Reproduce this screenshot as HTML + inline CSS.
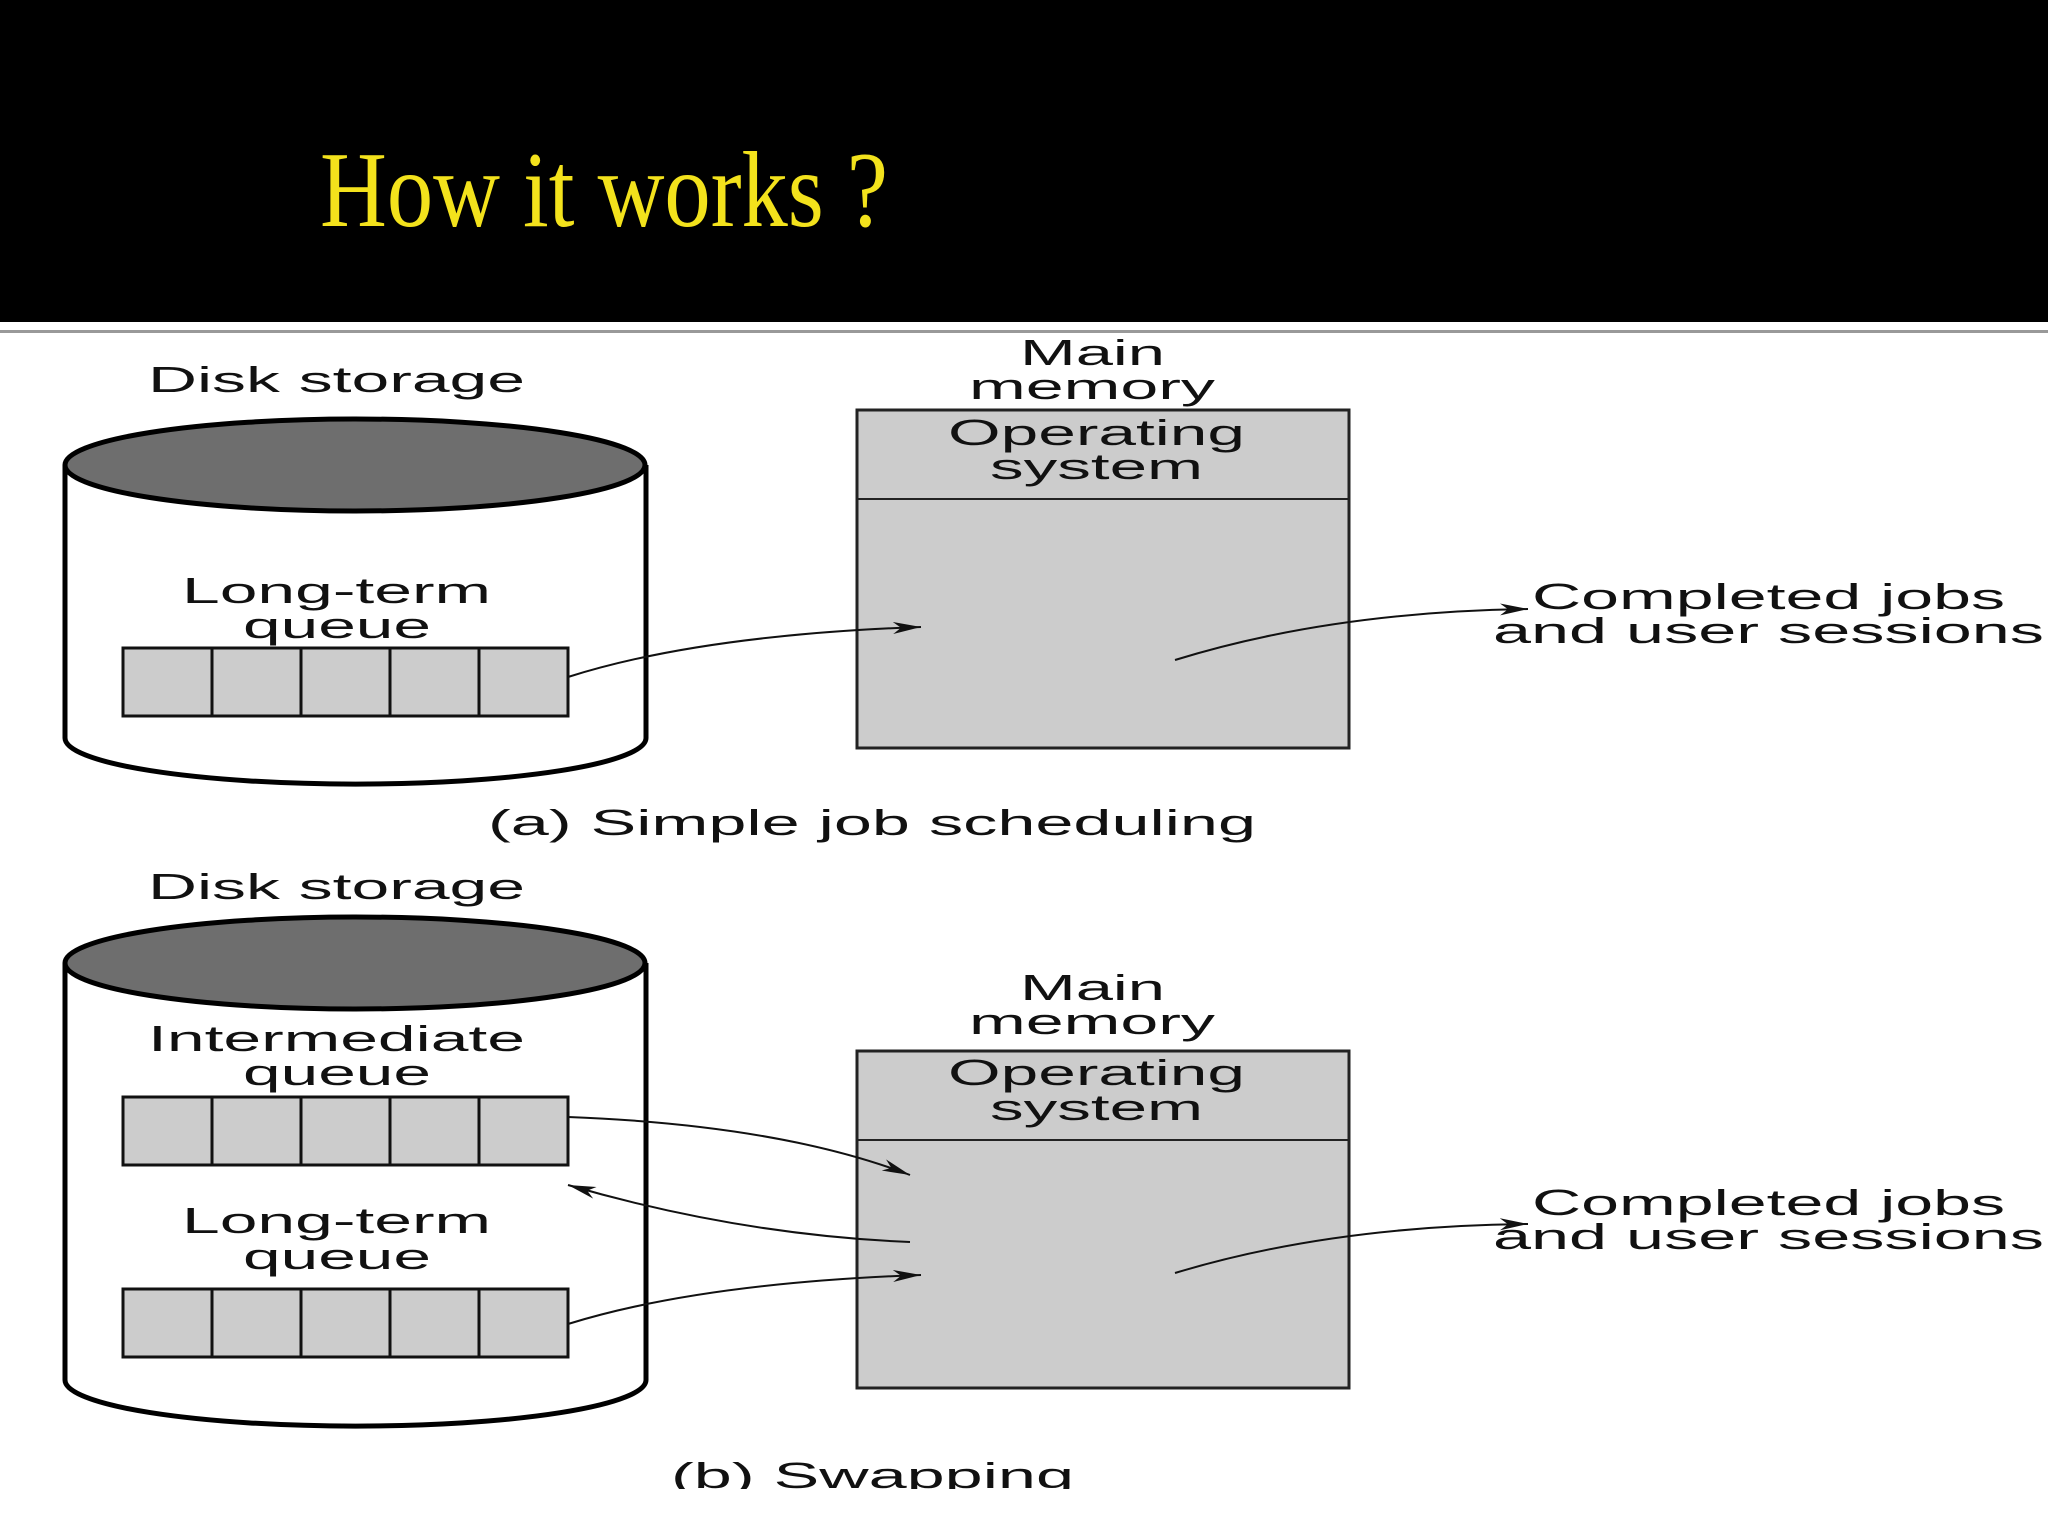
<!DOCTYPE html>
<html><head><meta charset="utf-8"><style>
html,body{margin:0;padding:0;background:#fff;}
svg{display:block;}
text{font-family:"Liberation Sans",sans-serif;fill:#111;}
</style></head><body>
<svg width="2048" height="1536" viewBox="0 0 2048 1536" xmlns="http://www.w3.org/2000/svg">
<defs>
<marker id="ah" markerWidth="30" markerHeight="14" refX="28" refY="7" orient="auto" markerUnits="userSpaceOnUse">
<path d="M0,1 L28,7 L0,13 L8,7 Z" fill="#111"/>
</marker>
</defs>
<rect x="0" y="0" width="2048" height="322" fill="#000"/>
<rect x="0" y="330" width="2048" height="3" fill="#999"/>
<text x="320" y="226" font-size="108" textLength="568" lengthAdjust="spacingAndGlyphs" style="fill:#f3e21c;font-family:'Liberation Serif',serif">How it works ?</text>

<!-- Cylinder A -->
<g stroke="#000" stroke-width="5">
<path d="M65,465 L65,738 A290,46 0 0 0 646,738 L646,465" fill="#fff"/>
<ellipse cx="355" cy="465" rx="290" ry="46" fill="#6e6e6e"/>
</g>
<g fill="#ccc" stroke="#111" stroke-width="3">
<rect x="123" y="648" width="89" height="68"/><rect x="212" y="648" width="89" height="68"/><rect x="301" y="648" width="89" height="68"/><rect x="390" y="648" width="89" height="68"/><rect x="479" y="648" width="89" height="68"/>
</g>
<text x="148" y="392" font-size="36" textLength="377" lengthAdjust="spacingAndGlyphs">Disk storage</text>
<text x="182" y="603" font-size="36" textLength="309" lengthAdjust="spacingAndGlyphs">Long-term</text>
<text x="243" y="638" font-size="36" textLength="188" lengthAdjust="spacingAndGlyphs">queue</text>

<!-- Memory A -->
<rect x="857" y="410" width="492" height="338" fill="#ccc" stroke="#222" stroke-width="3"/>
<line x1="857" y1="499" x2="1349" y2="499" stroke="#222" stroke-width="2"/>
<text x="1020" y="365" font-size="36" textLength="145" lengthAdjust="spacingAndGlyphs">Main</text>
<text x="969" y="399" font-size="36" textLength="246" lengthAdjust="spacingAndGlyphs">memory</text>
<text x="948" y="445" font-size="36" textLength="297" lengthAdjust="spacingAndGlyphs">Operating</text>
<text x="990" y="479" font-size="36" textLength="213" lengthAdjust="spacingAndGlyphs">system</text>
<path d="M568,677 Q700,635 921,627" fill="none" stroke="#111" stroke-width="2" marker-end="url(#ah)"/>
<path d="M1175,660 Q1330,612 1528,609" fill="none" stroke="#111" stroke-width="2" marker-end="url(#ah)"/>
<text x="1532" y="609" font-size="36" textLength="473" lengthAdjust="spacingAndGlyphs">Completed jobs</text>
<text x="1493" y="643" font-size="36" textLength="551" lengthAdjust="spacingAndGlyphs">and user sessions</text>
<text x="488" y="835" font-size="36" textLength="768" lengthAdjust="spacingAndGlyphs">(a) Simple job scheduling</text>

<!-- Cylinder B -->
<text x="148" y="899" font-size="36" textLength="377" lengthAdjust="spacingAndGlyphs">Disk storage</text>
<g stroke="#000" stroke-width="5">
<path d="M65,963 L65,1380 A290,46 0 0 0 646,1380 L646,963" fill="#fff"/>
<ellipse cx="355" cy="963" rx="290" ry="46" fill="#6e6e6e"/>
</g>
<g fill="#ccc" stroke="#111" stroke-width="3">
<rect x="123" y="1097" width="89" height="68"/><rect x="212" y="1097" width="89" height="68"/><rect x="301" y="1097" width="89" height="68"/><rect x="390" y="1097" width="89" height="68"/><rect x="479" y="1097" width="89" height="68"/>
<rect x="123" y="1289" width="89" height="68"/><rect x="212" y="1289" width="89" height="68"/><rect x="301" y="1289" width="89" height="68"/><rect x="390" y="1289" width="89" height="68"/><rect x="479" y="1289" width="89" height="68"/>
</g>
<text x="148" y="1051" font-size="36" textLength="377" lengthAdjust="spacingAndGlyphs">Intermediate</text>
<text x="243" y="1085" font-size="36" textLength="188" lengthAdjust="spacingAndGlyphs">queue</text>
<text x="182" y="1233" font-size="36" textLength="309" lengthAdjust="spacingAndGlyphs">Long-term</text>
<text x="243" y="1269" font-size="36" textLength="188" lengthAdjust="spacingAndGlyphs">queue</text>

<!-- Memory B -->
<rect x="857" y="1051" width="492" height="337" fill="#ccc" stroke="#222" stroke-width="3"/>
<line x1="857" y1="1140" x2="1349" y2="1140" stroke="#222" stroke-width="2"/>
<text x="1020" y="1000" font-size="36" textLength="145" lengthAdjust="spacingAndGlyphs">Main</text>
<text x="969" y="1034" font-size="36" textLength="246" lengthAdjust="spacingAndGlyphs">memory</text>
<text x="948" y="1085" font-size="36" textLength="297" lengthAdjust="spacingAndGlyphs">Operating</text>
<text x="990" y="1120" font-size="36" textLength="213" lengthAdjust="spacingAndGlyphs">system</text>
<path d="M568,1117 Q780,1125 910,1175" fill="none" stroke="#111" stroke-width="2" marker-end="url(#ah)"/>
<path d="M910,1242 Q740,1235 568,1185" fill="none" stroke="#111" stroke-width="2" marker-end="url(#ah)"/>
<path d="M568,1324 Q700,1283 921,1275" fill="none" stroke="#111" stroke-width="2" marker-end="url(#ah)"/>
<path d="M1175,1273 Q1330,1226 1528,1224" fill="none" stroke="#111" stroke-width="2" marker-end="url(#ah)"/>
<text x="1532" y="1215" font-size="36" textLength="473" lengthAdjust="spacingAndGlyphs">Completed jobs</text>
<text x="1493" y="1249" font-size="36" textLength="551" lengthAdjust="spacingAndGlyphs">and user sessions</text>
<text x="671" y="1488" font-size="36" textLength="403" lengthAdjust="spacingAndGlyphs">(b) Swapping</text>
<rect x="0" y="1489" width="2048" height="47" fill="#fff"/>
</svg>
</body></html>
